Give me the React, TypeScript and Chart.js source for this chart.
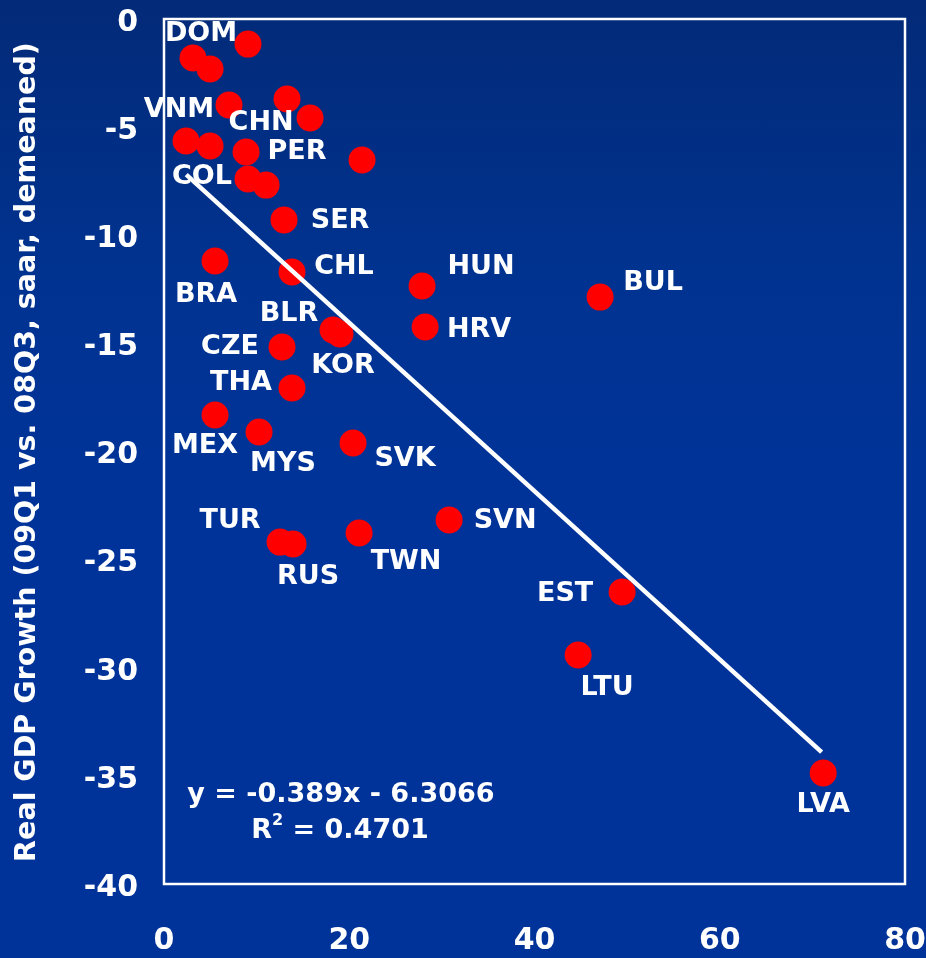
import React, { useEffect, useRef } from "react";
import { Chart, registerables } from "chart.js";

Chart.register(...registerables);

const countries = [
  "DOM", "", "", "VNM", "", "CHN", "", "", "PER", "", "COL", "",
  "SER", "BRA", "CHL", "HUN", "BUL", "BLR", "KOR", "HRV", "CZE", "THA",
  "MEX", "MYS", "SVK", "TUR", "RUS", "TWN", "SVN", "EST", "LTU", "LVA",
];
const xValues = [
  3.13, 9.07, 4.97, 7.02, 13.28, 15.77, 2.38, 4.97, 8.86, 21.38, 9.07, 11.02,
  12.96, 5.51, 13.82, 27.86, 47.08, 18.25, 19.0, 28.19, 12.74, 13.82,
  5.51, 10.26, 20.41, 12.53, 13.93, 21.06, 30.78, 49.46, 44.71, 71.17,
];
const yValues = [
  -1.8, -1.16, -2.31, -3.98, -3.7, -4.58, -5.64, -5.87, -6.15, -6.52, -7.4, -7.68,
  -9.29, -11.19, -11.7, -12.35, -12.86, -14.38, -14.57, -14.24, -15.17, -17.06,
  -18.31, -19.1, -19.61, -24.19, -24.28, -23.77, -23.17, -26.5, -29.41, -34.87,
];
// label offsets (pixels) relative to each point — layout only
const labelOffsets: [number, number][] = [
  [8, -24], [0, 0], [0, 0], [-50, 5], [0, 0], [-49, 5], [0, 0], [0, 0], [51, 0], [0, 0], [-46, -2], [0, 0],
  [56, 1], [-9, 34], [52, -5], [59, -19], [53, -14], [-44, -16], [3, 32], [54, 3], [-52, 0], [-51, -5],
  [-10, 31], [24, 32], [52, 16], [-50, -21], [15, 33], [47, 29], [56, 1], [-57, 2], [29, 33], [0, 32],
];
const trendX = [2.4, 71.0];
const trendY = [-7.2, -33.9];
const equationText = "y = -0.389x - 6.3066";
const r2Value = "0.4701";
const yTitle = "Real GDP Growth (09Q1 vs. 08Q3, saar, demeaned)";
const xTicksStep = 20;
const yTicksStep = 5;

const FONT = "'DejaVu Sans', Verdana, sans-serif";

const zeroPad = (s: any) => {
  s.paddingTop = 0;
  s.paddingBottom = 0;
  s.paddingLeft = 0;
  s.paddingRight = 0;
};

export default function App() {
  const ref = useRef<HTMLCanvasElement | null>(null);

  useEffect(() => {
    if (!ref.current) return;
    const overlay = {
      id: "overlay",
      afterDatasetsDraw(chart: any) {
        const ctx = chart.ctx;
        const xs = chart.scales.x;
        const ys = chart.scales.y;
        const ca = chart.chartArea;
        ctx.save();
        // labels
        ctx.fillStyle = "#ffffff";
        ctx.font = `bold 27px ${FONT}`;
        ctx.textAlign = "center";
        ctx.textBaseline = "middle";
        countries.forEach((c, i) => {
          if (!c) return;
          const px = xs.getPixelForValue(xValues[i]);
          const py = ys.getPixelForValue(yValues[i]);
          ctx.fillText(c, px + labelOffsets[i][0], py + labelOffsets[i][1]);
        });
        // equation
        ctx.font = `bold 27px ${FONT}`;
        ctx.fillText(equationText, xs.getPixelForValue(19.1), ys.getPixelForValue(-35.9));
        const cx = xs.getPixelForValue(19.0);
        const cy = ys.getPixelForValue(-37.55);
        const rest = " = " + r2Value;
        const wR = ctx.measureText("R").width;
        const wRest = ctx.measureText(rest).width;
        ctx.font = `bold 16px ${FONT}`;
        const w2 = ctx.measureText("2").width;
        const total = wR + w2 + wRest;
        const sx = cx - total / 2;
        ctx.textAlign = "left";
        ctx.font = `bold 27px ${FONT}`;
        ctx.fillText("R", sx, cy);
        ctx.font = `bold 16px ${FONT}`;
        ctx.fillText("2", sx + wR, cy - 10);
        ctx.font = `bold 27px ${FONT}`;
        ctx.fillText(rest, sx + wR + w2, cy);
        // frame
        ctx.strokeStyle = "#ffffff";
        ctx.lineWidth = 2.5;
        ctx.strokeRect(ca.left, ca.top, ca.right - ca.left, ca.bottom - ca.top);
        // y title
        ctx.translate(28, 452);
        ctx.rotate(-Math.PI / 2);
        ctx.textAlign = "center";
        ctx.font = `bold 28.5px ${FONT}`;
        ctx.fillText(yTitle, 0, 0);
        ctx.restore();
      },
    };

    const chart = new Chart(ref.current, {
      type: "scatter",
      data: {
        datasets: [
          {
            type: "line",
            data: trendX.map((x, i) => ({ x, y: trendY[i] })),
            borderColor: "#ffffff",
            borderWidth: 4.5,
            pointRadius: 0,
            fill: false,
          } as any,
          {
            data: xValues.map((x, i) => ({ x, y: yValues[i] })),
            backgroundColor: "#ff0000",
            borderWidth: 0,
            pointRadius: 13.5,
            pointHoverRadius: 13.5,
          },
        ],
      },
      options: {
        responsive: false,
        animation: false,
        layout: { autoPadding: false, padding: { top: 19, right: 21, left: 0, bottom: 0 } },
        plugins: { legend: { display: false }, tooltip: { enabled: false } },
        scales: {
          x: {
            type: "linear",
            min: 0,
            max: 80,
            afterFit: (s: any) => { s.height = 74; zeroPad(s); },
            grid: { display: false, drawTicks: false },
            border: { display: false },
            ticks: {
              stepSize: xTicksStep,
              color: "#ffffff",
              font: { family: FONT, size: 30, weight: "bold" },
              padding: 39,
              maxRotation: 0,
            },
          },
          y: {
            type: "linear",
            min: -40,
            max: 0,
            afterFit: (s: any) => { s.width = 164; zeroPad(s); },
            grid: { display: false, drawTicks: false },
            border: { display: false },
            ticks: {
              stepSize: yTicksStep,
              color: "#ffffff",
              font: { family: FONT, size: 30, weight: "bold" },
              padding: 26,
              labelOffset: 4,
            },
          },
        },
      },
      plugins: [overlay],
    } as any);
    return () => chart.destroy();
  }, []);

  return (
    <div
      style={{
        position: "absolute",
        left: 0,
        top: 0,
        width: 926,
        height: 958,
        background: "linear-gradient(to bottom, #032a78 0%, #003391 30%, #003399 55%, #003399 100%)",
      }}
    >
      <canvas ref={ref} width={926} height={958} style={{ display: "block" }} />
    </div>
  );
}
